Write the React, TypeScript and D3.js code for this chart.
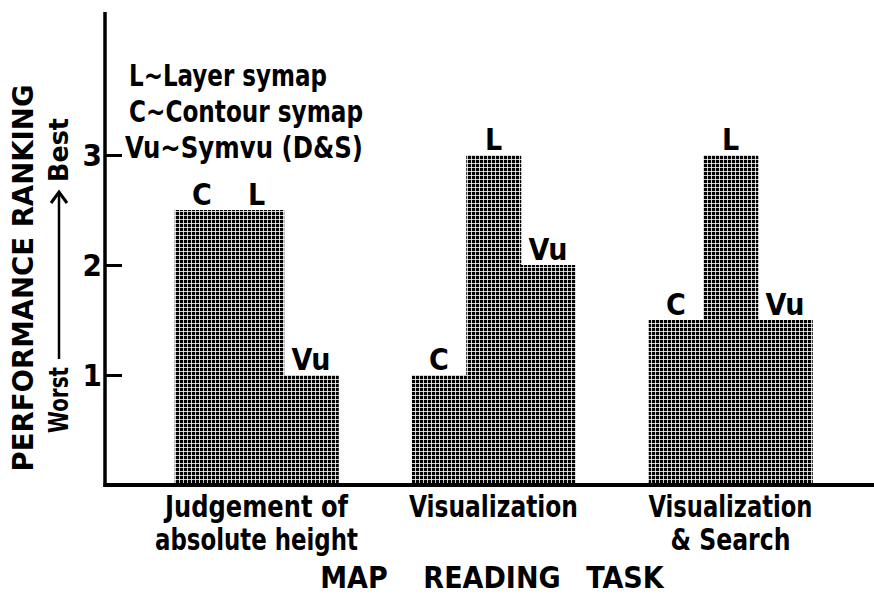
import * as d3 from "d3";
import React, { useEffect, useRef } from "react";

const tasks = ["Judgement of absolute height", "Visualization", "Visualization & Search"];
const taskLines = [["Judgement of", "absolute height"], ["Visualization"], ["Visualization", "& Search"]];
const taskLineWidths = [[183, 203], [169], [164, 120]];
const systems = ["C", "L", "Vu"];
const valuesC = [2.5, 1.0, 1.5];
const valuesL = [2.5, 3.0, 3.0];
const valuesVu = [1.0, 2.0, 1.5];
const legendLines = ["L~Layer symap", "C~Contour symap", "Vu~Symvu (D&S)"];
const legendWidths = [198, 234, 238];
const yTicks = [1, 2, 3];
const xTitleWords = ["MAP", "READING", "TASK"];

const W = 874;
const H = 594;
const FONT = "'DejaVu Sans Condensed', 'DejaVu Sans', sans-serif";

export default function App() {
  const svgRef = useRef<SVGSVGElement | null>(null);

  useEffect(() => {
    const svg = d3.select(svgRef.current);
    svg.selectAll("*").remove();

    const x0 = 105;
    const y0 = 485;

    const x = d3.scaleBand<string>().domain(tasks).range([138, 849]).paddingInner(0.31).paddingOuter(0.155);
    const xs = d3.scaleBand<string>().domain(systems).range([0, x.bandwidth()]);
    const y = d3.scaleLinear().domain([0, 4.3]).range([y0, 12]);

    const vals: Record<string, number[]> = { C: valuesC, L: valuesL, Vu: valuesVu };

    // dotted screen for the bars
    const pat = svg.append("defs").append("pattern")
      .attr("id", "dots")
      .attr("patternUnits", "userSpaceOnUse")
      .attr("width", 4).attr("height", 4);
    pat.append("rect").attr("width", 4).attr("height", 4).attr("fill", "#000");
    pat.append("rect").attr("x", 3.2).attr("width", 0.8).attr("height", 4).attr("fill", "#fff");
    pat.append("rect").attr("y", 3.2).attr("width", 4).attr("height", 0.8).attr("fill", "#fff");

    const bars = tasks.flatMap((t, i) => systems.map(s => ({ task: t, sys: s, v: vals[s][i] })));

    svg.append("g").selectAll("rect")
      .data(bars)
      .join("rect")
      .attr("x", d => x(d.task)! + xs(d.sys)!)
      .attr("y", d => y(d.v))
      .attr("width", xs.bandwidth() + 0.5)
      .attr("height", d => y0 - y(d.v))
      .attr("fill", "url(#dots)");

    svg.append("g").selectAll("text")
      .data(bars)
      .join("text")
      .attr("x", d => x(d.task)! + xs(d.sys)! + xs.bandwidth() / 2)
      .attr("y", d => y(d.v) - 5)
      .attr("text-anchor", "middle")
      .attr("font-family", FONT)
      .attr("font-weight", "bold")
      .attr("font-size", 30)
      .text(d => d.sys);

    // axes
    svg.append("line").attr("x1", x0).attr("x2", x0).attr("y1", y(4.3)).attr("y2", y0 + 2)
      .attr("stroke", "#000").attr("stroke-width", 3.5);
    svg.append("line").attr("x1", x0 - 1.5).attr("x2", W).attr("y1", y0).attr("y2", y0)
      .attr("stroke", "#000").attr("stroke-width", 4);

    const yAxis = d3.axisRight(y).tickValues(yTicks).tickSize(17).tickFormat(() => "");
    const ya = svg.append("g").attr("transform", `translate(${x0},0)`).call(yAxis);
    ya.select(".domain").remove();
    ya.selectAll(".tick line").attr("stroke", "#000").attr("stroke-width", 3);

    svg.append("g").selectAll("text")
      .data(yTicks)
      .join("text")
      .attr("x", x0 - 3)
      .attr("y", d => y(d) + 11)
      .attr("text-anchor", "end")
      .attr("font-family", FONT)
      .attr("font-weight", "bold")
      .attr("font-size", 31)
      .text(d => d);

    // legend
    svg.append("g").selectAll("text")
      .data(legendLines)
      .join("text")
      .attr("x", (d, i) => (i === 2 ? 125 : 129))
      .attr("y", (d, i) => 86 + i * 36)
      .attr("font-family", FONT)
      .attr("font-weight", "bold")
      .attr("font-size", 30)
      .attr("textLength", (d, i) => legendWidths[i])
      .attr("lengthAdjust", "spacingAndGlyphs")
      .text(d => d);

    // category labels
    const cat = svg.append("g");
    tasks.forEach((t, i) => {
      taskLines[i].forEach((line, j) => {
        cat.append("text")
          .attr("x", x(t)! + x.bandwidth() / 2)
          .attr("y", 517 + j * 33)
          .attr("text-anchor", "middle")
          .attr("font-family", FONT)
          .attr("font-weight", "bold")
          .attr("font-size", 31)
          .attr("textLength", taskLineWidths[i][j])
          .attr("lengthAdjust", "spacingAndGlyphs")
          .text(line);
      });
    });

    // x-axis title
    const titleCx = [354, 492, 625];
    svg.append("g").selectAll("text")
      .data(xTitleWords)
      .join("text")
      .attr("x", (d, i) => titleCx[i])
      .attr("y", 588)
      .attr("text-anchor", "middle")
      .attr("font-family", FONT)
      .attr("font-weight", "bold")
      .attr("font-size", 30)
      .text(d => d);

    // y-axis title
    svg.append("text")
      .attr("transform", "translate(33,278) rotate(-90)")
      .attr("text-anchor", "middle")
      .attr("font-family", FONT)
      .attr("font-weight", "bold")
      .attr("font-size", 28)
      .attr("textLength", 387)
      .attr("lengthAdjust", "spacingAndGlyphs")
      .text("PERFORMANCE RANKING");

    const sub = svg.append("g").attr("transform", "translate(68,275) rotate(-90)");
    sub.append("text").attr("x", -125).attr("text-anchor", "middle")
      .attr("font-family", FONT).attr("font-weight", "bold").attr("font-size", 27)
      .attr("textLength", 66).attr("lengthAdjust", "spacingAndGlyphs").text("Worst");
    sub.append("text").attr("x", 125).attr("text-anchor", "middle")
      .attr("font-family", FONT).attr("font-weight", "bold").attr("font-size", 27)
      .attr("textLength", 64).attr("lengthAdjust", "spacingAndGlyphs").text("Best");
    sub.append("line").attr("x1", -84).attr("x2", 81).attr("y1", -9).attr("y2", -9)
      .attr("stroke", "#000").attr("stroke-width", 2.5);
    sub.append("path").attr("d", "M72,-17 L83,-9 L72,-1")
      .attr("fill", "none").attr("stroke", "#000").attr("stroke-width", 3);
  }, []);

  return (
    <svg
      ref={svgRef}
      width={W}
      height={H}
      style={{ position: "absolute", left: 0, top: 0, background: "#fff" }}
    />
  );
}
